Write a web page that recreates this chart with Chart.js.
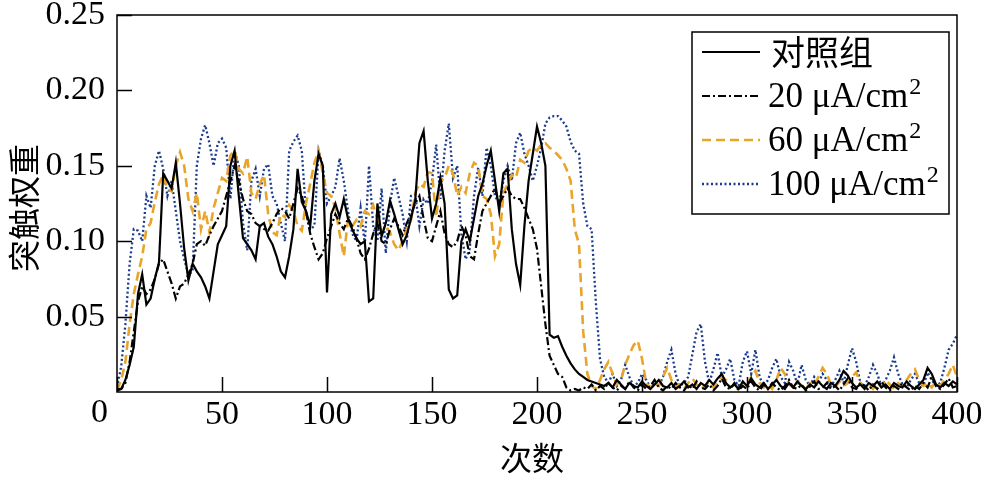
<!DOCTYPE html>
<html>
<head>
<meta charset="utf-8">
<script src="https://cdn.jsdelivr.net/npm/chart.js@4.4.0/dist/chart.umd.min.js"></script>
<style>
  html, body { margin: 0; background: #fff; }
</style>
</head>
<body>
<canvas id="grafico" width="981" height="478"></canvas>
<script>
// 次数 (x), every 2 iterations
const ciclos = [
  0,2,4,6,8,10,12,14,16,18,20,22,24,26,28,30,32,34,36,38,
  40,42,44,46,48,50,52,54,56,58,60,62,64,66,68,70,72,74,76,78,
  80,82,84,86,88,90,92,94,96,98,100,102,104,106,108,110,112,114,116,118,
  120,122,124,126,128,130,132,134,136,138,140,142,144,146,148,150,152,154,156,158,
  160,162,164,166,168,170,172,174,176,178,180,182,184,186,188,190,192,194,196,198,
  200,202,204,206,208,210,212,214,216,218,220,222,224,226,228,230,232,234,236,238,
  240,242,244,246,248,250,252,254,256,258,260,262,264,266,268,270,272,274,276,278,
  280,282,284,286,288,290,292,294,296,298,300,302,304,306,308,310,312,314,316,318,
  320,322,324,326,328,330,332,334,336,338,340,342,344,346,348,350,352,354,356,358,
  360,362,364,366,368,370,372,374,376,378,380,382,384,386,388,390,392,394,396,398,
  400
];

// 对照组
const control = [
  .002,.002,.008,.018,.030,.065,.078,.058,.062,.075,
  .086,.145,.140,.135,.152,.125,.095,.074,.085,.080,
  .076,.070,.062,.080,.098,.104,.110,.150,.160,.130,
  .102,.098,.094,.088,.110,.112,.103,.098,.090,.080,
  .076,.090,.108,.148,.126,.120,.110,.140,.158,.150,
  .066,.118,.125,.116,.128,.115,.108,.102,.098,.100,
  .060,.062,.125,.103,.112,.127,.118,.108,.098,.104,
  .115,.127,.165,.173,.140,.115,.125,.142,.125,.068,
  .062,.064,.100,.108,.100,.115,.130,.138,.150,.160,
  .140,.120,.145,.148,.108,.085,.071,.110,.140,.158,
  .176,.165,.150,.038,.036,.037,.030,.024,.019,.015,
  .012,.010,.008,.007,.006,.005,.004,.006,.003,.008,
  .005,.002,.006,.004,.003,.007,.004,.002,.005,.008,
  .004,.003,.006,.002,.004,.007,.003,.005,.002,.006,
  .004,.008,.005,.009,.012,.006,.003,.005,.002,.007,
  .004,.009,.005,.003,.006,.002,.005,.008,.004,.002,
  .006,.003,.007,.004,.002,.005,.003,.007,.004,.002,
  .006,.004,.008,.014,.011,.006,.003,.005,.002,.006,
  .004,.007,.003,.005,.002,.006,.004,.003,.007,.004,
  .002,.005,.008,.016,.012,.005,.003,.006,.004,.007,
  .005
];

// 20 µA/cm2
const i20 = [
  .001,.002,.006,.020,.040,.060,.070,.065,.068,.075,
  .085,.088,.080,.072,.062,.070,.072,.078,.085,.098,
  .100,.097,.104,.110,.115,.120,.130,.140,.150,.140,
  .128,.120,.118,.112,.110,.108,.107,.112,.118,.122,
  .120,.115,.125,.135,.130,.120,.105,.096,.088,.092,
  .102,.110,.118,.112,.108,.115,.110,.102,.092,.088,
  .095,.105,.112,.100,.098,.108,.115,.110,.104,.112,
  .118,.125,.130,.115,.102,.100,.110,.120,.105,.098,
  .096,.100,.110,.104,.090,.088,.105,.120,.125,.130,
  .135,.125,.130,.135,.130,.128,.128,.122,.115,.108,
  .095,.070,.045,.024,.018,.012,.010,.003,.001,.002,
  .001,.003,.002,.005,.001,.004,.002,.006,.003,.001,
  .004,.002,.007,.003,.001,.005,.002,.004,.008,.003,
  .001,.004,.002,.006,.003,.001,.005,.002,.007,.003,
  .002,.005,.001,.004,.009,.003,.002,.006,.001,.004,
  .002,.007,.003,.001,.005,.002,.006,.003,.001,.004,
  .008,.003,.002,.005,.001,.004,.007,.002,.003,.006,
  .002,.004,.001,.005,.009,.003,.002,.006,.004,.001,
  .005,.002,.007,.003,.001,.004,.002,.006,.003,.001,
  .004,.002,.006,.003,.010,.004,.002,.005,.009,.003,
  .004
];

// 60 µA/cm2
const i60 = [
  .001,.008,.020,.045,.065,.078,.090,.108,.112,.126,
  .138,.144,.135,.133,.150,.159,.150,.128,.120,.132,
  .108,.120,.106,.122,.132,.142,.140,.157,.160,.148,
  .145,.156,.132,.128,.138,.144,.118,.106,.104,.118,
  .116,.124,.120,.110,.107,.125,.138,.152,.160,.145,
  .132,.130,.122,.105,.090,.114,.110,.114,.110,.120,
  .118,.124,.115,.106,.110,.106,.098,.094,.100,.108,
  .114,.132,.138,.136,.146,.145,.116,.140,.142,.150,
  .145,.130,.136,.132,.145,.152,.150,.130,.128,.118,
  .090,.098,.132,.138,.144,.142,.154,.152,.160,.162,
  .160,.164,.165,.162,.160,.157,.154,.148,.140,.108,
  .098,.040,.012,.004,.002,.008,.015,.020,.012,.005,
  .008,.018,.025,.031,.034,.022,.006,.003,.006,.004,
  .010,.016,.008,.003,.005,.002,.006,.009,.005,.002,
  .004,.007,.003,.006,.010,.008,.003,.005,.002,.006,
  .004,.010,.014,.006,.003,.005,.002,.008,.016,.012,
  .005,.003,.007,.004,.002,.006,.004,.010,.016,.012,
  .005,.003,.007,.004,.006,.010,.013,.006,.003,.005,
  .002,.006,.004,.008,.005,.002,.006,.004,.008,.012,
  .015,.008,.004,.006,.003,.007,.004,.008,.012,.018,
  .010
];

// 100 µA/cm2
const i100 = [
  .003,.017,.045,.085,.108,.107,.100,.130,.122,.150,
  .160,.148,.130,.140,.120,.100,.088,.078,.080,.150,
  .168,.177,.165,.150,.165,.168,.162,.128,.160,.150,
  .112,.094,.140,.148,.130,.148,.151,.130,.125,.112,
  .100,.160,.166,.170,.160,.118,.108,.110,.160,.150,
  .125,.130,.136,.155,.140,.120,.105,.100,.122,.098,
  .150,.110,.100,.135,.092,.125,.142,.130,.118,.100,
  .130,.131,.110,.128,.125,.140,.164,.128,.160,.178,
  .142,.150,.105,.088,.095,.130,.149,.130,.162,.150,
  .130,.125,.140,.150,.140,.165,.172,.158,.150,.140,
  .150,.162,.178,.182,.183,.183,.180,.176,.166,.160,
  .158,.125,.110,.108,.060,.022,.010,.006,.012,.004,
  .008,.018,.010,.004,.006,.012,.008,.003,.006,.004,
  .010,.020,.028,.012,.004,.006,.010,.025,.040,.045,
  .020,.006,.015,.026,.010,.015,.022,.008,.004,.020,
  .027,.012,.028,.010,.004,.008,.016,.022,.010,.006,
  .020,.014,.005,.018,.008,.004,.010,.006,.012,.008,
  .004,.008,.014,.006,.018,.029,.020,.006,.004,.010,
  .018,.012,.004,.008,.014,.023,.012,.005,.003,.008,
  .012,.006,.004,.013,.008,.004,.006,.016,.028,.032,
  .038
];

const ticksX = [0, 50, 100, 150, 200, 250, 300, 350, 400];
const ticksY = [0.05, 0.10, 0.15, 0.20, 0.25];

const series = [
  { nombre: "对照组", data: control, color: "#000000", width: 2.2, dash: [] },
  { nombre: "20 μA/cm", data: i20, color: "#000000", width: 2.2, dash: [8, 3, 2, 3] },
  { nombre: "60 μA/cm", data: i60, color: "#e8a52a", width: 2.6, dash: [9, 5] },
  { nombre: "100 μA/cm", data: i100, color: "#1a3a8c", width: 2.3, dash: [2, 2.5] }
];

const SERIF = "'Liberation Serif', 'Times New Roman', serif";
const CJK = "'Noto Sans CJK SC', sans-serif";

const marco = {
  id: "marco",
  afterDraw(chart) {
    const { ctx, chartArea: a, scales: { x, y } } = chart;
    ctx.save();
    ctx.strokeStyle = "#000";
    ctx.lineWidth = 1.5;
    ctx.strokeRect(a.left, a.top, a.right - a.left, a.bottom - a.top);
    ctx.beginPath();
    ticksY.forEach(v => {
      const py = Math.round(y.getPixelForValue(v)) + 0.5;
      ctx.moveTo(a.left, py); ctx.lineTo(a.left + 15, py);
    });
    ticksX.forEach(v => {
      const px = Math.round(x.getPixelForValue(v)) + 0.5;
      ctx.moveTo(px, a.bottom); ctx.lineTo(px, a.bottom - 15);
    });
    ctx.stroke();

    // origin label
    ctx.fillStyle = "#000";
    ctx.font = "34px " + SERIF;
    ctx.textAlign = "right";
    ctx.textBaseline = "middle";
    ctx.fillText("0", a.left - 9, 413);

    // axis titles
    ctx.font = "32px " + CJK;
    ctx.textAlign = "center";
    ctx.fillText("次数", (a.left + a.right) / 2 - 5, 458);
    ctx.save();
    ctx.translate(24, 208);
    ctx.rotate(-Math.PI / 2);
    ctx.fillText("突触权重", 0, 0);
    ctx.restore();

    // legend
    const bx = 692, by = 32, bw = 257, bh = 182;
    ctx.fillStyle = "#fff";
    ctx.fillRect(bx, by, bw, bh);
    ctx.strokeStyle = "#000";
    ctx.lineWidth = 1.5;
    ctx.strokeRect(bx, by, bw, bh);
    series.forEach((s, i) => {
      const ry = 52 + i * 44;
      ctx.beginPath();
      ctx.setLineDash(s.dash);
      ctx.strokeStyle = s.color;
      ctx.lineWidth = s.width;
      ctx.moveTo(702, ry); ctx.lineTo(760, ry);
      ctx.stroke();
      ctx.setLineDash([]);
      ctx.fillStyle = "#000";
      ctx.textAlign = "left";
      ctx.textBaseline = "middle";
      if (i === 0) {
        ctx.font = "34px " + CJK;
        ctx.fillText(s.nombre, 771, ry);
      } else {
        ctx.font = "35px " + SERIF;
        ctx.fillText(s.nombre, 768, ry + 2);
        const w = ctx.measureText(s.nombre).width;
        ctx.font = "24px " + SERIF;
        ctx.fillText("2", 768 + w + 1, ry - 8);
      }
    });
    ctx.restore();
  }
};

new Chart(document.getElementById("grafico"), {
  type: "line",
  data: {
    datasets: series.map(s => ({
      label: s.nombre,
      data: ciclos.map((c, i) => ({ x: c, y: s.data[i] })),
      borderColor: s.color,
      borderWidth: s.width,
      borderDash: s.dash,
      pointRadius: 0,
      tension: 0,
      fill: false
    }))
  },
  options: {
    responsive: false,
    animation: false,
    devicePixelRatio: 1,
    layout: { padding: { top: 15, right: 24, left: 0, bottom: 0 } },
    plugins: { legend: { display: false }, tooltip: { enabled: false } },
    scales: {
      x: {
        type: "linear",
        min: 0, max: 400,
        afterFit: s => { s.height = 86; s.paddingLeft = 0; s.paddingRight = 0; },
        afterBuildTicks: s => { s.ticks = ticksX.map(v => ({ value: v })); },
        grid: { display: false, drawTicks: false },
        border: { display: false },
        ticks: {
          color: "#000",
          font: { family: SERIF, size: 34 },
          padding: 3,
          maxRotation: 0,
          callback: v => (v === 0 ? "" : String(v))
        }
      },
      y: {
        min: 0, max: 0.25,
        afterFit: s => { s.width = 117; s.paddingTop = 0; s.paddingBottom = 0; },
        afterBuildTicks: s => { s.ticks = ticksY.map(v => ({ value: v })); },
        grid: { display: false, drawTicks: false },
        border: { display: false },
        ticks: {
          color: "#000",
          font: { family: SERIF, size: 34 },
          padding: 12,
          callback: v => v.toFixed(2)
        }
      }
    }
  },
  plugins: [marco]
});
</script>
</body>
</html>
